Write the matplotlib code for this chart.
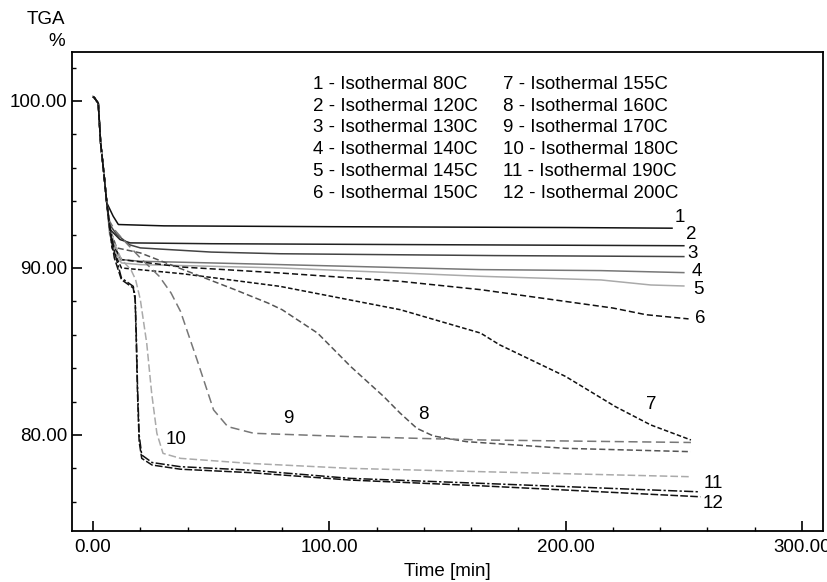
import numpy as np
import matplotlib
matplotlib.use("Agg")
import matplotlib.pyplot as plt

plt.rcParams['font.family'] = ['Liberation Sans', 'DejaVu Sans']

# shared initial drop (all runs start the same way)
head_t = [0, 0.5, 1.5, 2.2, 3.2, 4.7, 5.8]
head_v = [100.25, 100.2, 100.0, 99.86, 97.5, 95.5, 93.9]

# time [min] and TGA [%] for each isothermal run after the shared start
t1 = [8.5, 10.7, 30, 100, 200, 245]
v1 = [93.1, 92.6, 92.52, 92.47, 92.42, 92.38]
t2 = [7.2, 11.4, 15.7, 50, 130, 250]
v2 = [92.3, 91.7, 91.5, 91.45, 91.4, 91.33]
t3 = [7, 10, 15.6, 20, 50, 79, 170, 250]
v3 = [92.6, 92.0, 91.38, 91.2, 90.95, 90.85, 90.74, 90.68]
t4 = [7, 10, 12, 20, 50, 79, 164, 215, 250]
v4 = [92.2, 91.0, 90.5, 90.4, 90.3, 90.2, 89.9, 89.84, 89.72]
t5 = [7, 10, 12, 20, 50, 79, 164, 215, 236, 250]
v5 = [92.0, 90.8, 90.3, 90.2, 90.1, 90.0, 89.5, 89.28, 88.98, 88.92]
t6 = [8, 12, 38, 79, 130, 164, 220, 234, 252]
v6 = [91.5, 90.5, 90.05, 89.7, 89.2, 88.7, 87.6, 87.2, 86.95]
t7 = [8, 12, 38, 79, 130, 164, 172, 200, 221, 236, 253]
v7 = [91.2, 90.0, 89.65, 88.9, 87.5, 86.1, 85.4, 83.5, 81.7, 80.6, 79.7]
t8 = [7, 10, 20, 40, 60, 74, 80, 95, 109, 123, 130, 137, 144, 158, 200, 253]
v8 = [92.4, 91.2, 90.9, 89.8, 88.7, 87.9, 87.5, 86.1, 84.1, 82.3, 81.3, 80.4,
      79.94, 79.6, 79.2, 79.0]
t9 = [7, 9, 12.7, 20, 28, 33, 37, 44, 51, 57, 68, 109, 165, 253]
v9 = [92.8, 92.3, 91.7, 90.6, 89.5, 88.5, 87.4, 84.5, 81.5, 80.5, 80.1, 79.9,
      79.7, 79.55]
t10 = [7, 9, 12, 16, 18, 20, 22.7, 24.8, 27, 29.6, 37, 66, 109, 165, 253]
v10 = [92.5, 91.5, 90.5, 89.9, 89.3, 88.1, 85.5, 82.5, 80.1, 78.9, 78.6, 78.3,
       78.0, 77.8, 77.5]
t11 = [7, 9, 12, 14, 17, 17.8, 18.3, 18.8, 19.5, 20.6, 25, 37, 66, 109, 165, 256]
v11 = [92.6, 91.0, 89.4, 89.2, 88.9, 88.3, 86.0, 83.0, 80.0, 78.8, 78.35, 78.1,
       77.9, 77.4, 77.1, 76.6]
t12 = [7, 9, 12, 14, 17, 17.8, 18.3, 18.8, 19.5, 20.6, 25, 37, 66, 109, 165, 257]
v12 = [92.4, 90.6, 89.3, 89.1, 88.8, 88.1, 85.5, 82.5, 79.6, 78.6, 78.2, 77.95,
       77.75, 77.3, 76.95, 76.3]

legend_left = ["1 - Isothermal 80C", "2 - Isothermal 120C", "3 - Isothermal 130C",
               "4 - Isothermal 140C", "5 - Isothermal 145C", "6 - Isothermal 150C"]
legend_right = ["7 - Isothermal 155C", "8 - Isothermal 160C", "9 - Isothermal 170C",
                "10 - Isothermal 180C", "11 - Isothermal 190C", "12 - Isothermal 200C"]

# curve number labels (time, value)
label_txt = ["1", "2", "3", "4", "5", "6", "7", "8", "9", "10", "11", "12"]
label_t = [248.4, 253, 253.8, 255.5, 256.2, 256.9, 236.4, 139.8, 82.6, 35.1, 262.5, 262.5]
label_v = [93.0, 91.98, 90.88, 89.78, 88.72, 86.99, 81.8, 81.2, 81.0, 79.74, 77.1, 75.87]

curves = [(t1, v1), (t2, v2), (t3, v3), (t4, v4), (t5, v5), (t6, v6),
          (t7, v7), (t8, v8), (t9, v9), (t10, v10), (t11, v11), (t12, v12)]
styles = [
    ('#111111', '-'),
    ('#222222', '-'),
    ('#444444', '-'),
    ('#777777', '-'),
    ('#aaaaaa', '-'),
    ('#111111', (0, (4, 2))),
    ('#111111', (0, (3, 1.5))),
    ('#555555', (0, (4, 2))),
    ('#777777', (0, (6, 3))),
    ('#aaaaaa', (0, (5, 2))),
    ('#111111', (0, (6, 1.5, 1.5, 1.5))),
    ('#111111', (0, (5, 1.5))),
]

fs = 13.5

fig = plt.figure(figsize=(8.27, 5.82), dpi=100)
ax = fig.add_axes([0.0871, 0.0876, 0.9081, 0.8231])

for (t, v), (col, ls) in zip(curves, styles):
    ax.plot(head_t + t, head_v + v, color=col, linestyle=ls, linewidth=1.1)

for s, x, y in zip(label_txt, label_t, label_v):
    ax.text(x, y, s, fontsize=fs, ha='center', va='center')

row0 = 101.0
step = 1.305
for i, s in enumerate(legend_left):
    ax.text(93.1, row0 - i * step, s, fontsize=fs, ha='left', va='center')
for i, s in enumerate(legend_right):
    ax.text(173.5, row0 - i * step, s, fontsize=fs, ha='left', va='center')

ax.set_xlim(-8.9, 308.9)
ax.set_ylim(74.25, 102.93)
ax.set_xticks([0, 100, 200, 300])
ax.set_xticklabels(["0.00", "100.00", "200.00", "300.00"])
ax.set_yticks([80, 90, 100])
ax.set_yticklabels(["80.00", "90.00", "100.00"])
ax.set_xticks(np.arange(0, 301, 20), minor=True)
ax.set_yticks(np.arange(76, 103, 2), minor=True)
ax.tick_params(direction='in', labelsize=fs, width=1.2, length=7)
ax.tick_params(which='minor', direction='in', width=1.0, length=3)
ax.tick_params(axis='x', pad=6)
for sp in ax.spines.values():
    sp.set_linewidth(1.3)

ax.set_xlabel("Time [min]", fontsize=fs, labelpad=5)
fig.text(65 / 827, 1 - 20 / 582, "TGA", fontsize=fs, ha='right', va='center')
fig.text(65 / 827, 1 - 41 / 582, "%", fontsize=fs, ha='right', va='center')

fig.savefig("out.png", dpi=100)
